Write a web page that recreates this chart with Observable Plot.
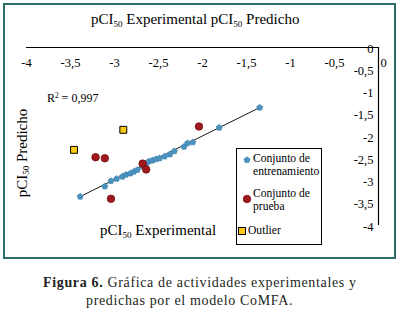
<!DOCTYPE html>
<html><head><meta charset="utf-8">
<script src="https://cdn.jsdelivr.net/npm/d3@7"></script>
<script src="https://cdn.jsdelivr.net/npm/@observablehq/plot@0.6"></script>
<style>
body{margin:0;background:#fff;}
#wrap{position:relative;width:398px;height:313px;font-family:"Liberation Serif","Times New Roman",serif;color:#000;overflow:hidden;}
#frame{position:absolute;left:3px;top:3px;width:393px;height:256px;box-sizing:border-box;border:2px solid #2c6f68;}
#chart{position:absolute;left:0;top:0;}
.t{position:absolute;white-space:nowrap;line-height:1;}
.t sub{font-size:60%;vertical-align:-0.3em;line-height:0;}
#title{left:91px;top:12px;font-size:15px;}
#ytitle{left:22px;top:153px;font-size:15px;transform:translate(-50%,-50%) rotate(-90deg);}
#xtitle{left:100px;top:223px;font-size:15px;}
#r2{left:47px;top:92px;font-size:12px;}
#r2 sup{font-size:60%;vertical-align:0.5em;line-height:0;}
#legend{position:absolute;left:236px;top:148px;width:86px;height:97px;box-sizing:border-box;border:1px solid #000;background:#fff;font-size:11.6px;}
#legend .l{position:absolute;white-space:nowrap;line-height:1;}
#legend svg{position:absolute;overflow:visible;}
.cap{position:absolute;white-space:nowrap;font-size:14px;letter-spacing:0.65px;color:#231f20;line-height:1;}
</style></head><body>
<div id="wrap">
  <div id="frame"></div>
  <div id="chart"></div>
  <div class="t" id="title">pCI<sub>50</sub> Experimental pCI<sub>50</sub> Predicho</div>
  <div class="t" id="ytitle">pCI<sub>50</sub> Predicho</div>
  <div class="t" id="xtitle">pCI<sub>50</sub> Experimental</div>
  <div class="t" id="r2">R<sup>2</sup> = 0,997</div>
  <div id="legend"></div>
  <div class="cap" id="cap1" style="left:43px;top:276px;"><b>Figura 6.</b> Gráfica de actividades experimentales y</div>
  <div class="cap" id="cap2" style="left:86px;top:294px;">predichas por el modelo CoMFA.</div>
</div>
<script>
// Tick values and labels
const xTickValues = [-4, -3.5, -3, -2.5, -2, -1.5, -1, -0.5, 0];
const xTickLabels = ["-4", "-3,5", "-3", "-2,5", "-2", "-1,5", "-1", "-0,5", "0"];
const yTickValues = [0, -0.5, -1, -1.5, -2, -2.5, -3, -3.5, -4];
const yTickLabels = ["0", "-0,5", "-1", "-1,5", "-2", "-2,5", "-3", "-3,5", "-4"];

// Training set (Conjunto de entrenamiento)
const trainX = [-3.39, -3.11, -3.04, -2.975, -2.91, -2.87, -2.82, -2.78, -2.74, -2.68, -2.64, -2.61, -2.57, -2.53, -2.49, -2.43, -2.37, -2.32, -2.21, -2.17, -2.11, -1.81, -1.35];
const trainY = [-3.35, -3.12, -3.00, -2.95, -2.90, -2.86, -2.83, -2.79, -2.75, -2.67, -2.61, -2.56, -2.54, -2.51, -2.49, -2.45, -2.40, -2.33, -2.23, -2.15, -2.13, -1.80, -1.35];

// Test set (Conjunto de prueba)
const testX = [-3.215, -3.11, -3.04, -2.68, -2.64, -2.04];
const testY = [-2.465, -2.49, -3.40, -2.61, -2.74, -1.775];

// Outliers
const outX = [-2.90, -3.46];
const outY = [-1.85, -2.30];

// Regression line endpoints
const fitX = [-3.39, -1.35];
const fitY = [-3.35, -1.35];

const train = trainX.map((x, i) => ({x, y: trainY[i]}));
const test = testX.map((x, i) => ({x, y: testY[i]}));
const outl = outX.map((x, i) => ({x, y: outY[i]}));
const fit = fitX.map((x, i) => ({x, y: fitY[i]}));
const xt = xTickValues.map((v, i) => ({v, label: xTickLabels[i]}));
const yt = yTickValues.map((v, i) => ({v, label: yTickLabels[i]}));

const pentagon = {
  draw(context, size) {
    const r = Math.sqrt(size / Math.PI) * 1.1;
    for (let k = 0; k < 5; k++) {
      const a = -Math.PI / 2 + k * 2 * Math.PI / 5;
      const px = r * Math.cos(a), py = r * Math.sin(a);
      if (k === 0) context.moveTo(px, py); else context.lineTo(px, py);
    }
    context.closePath();
  }
};

const BLUE = "#4a93c0", BLUE_S = "#3a80ad";
const RED = "#a0181d", RED_S = "#6d0b0e";
const YEL = "#fdc913";

const chart = Plot.plot({
  width: 398,
  height: 260,
  marginLeft: 26,
  marginRight: 20,
  marginTop: 47,
  marginBottom: 35,
  x: {domain: [-4, 0], axis: null},
  y: {domain: [-4, 0], axis: null},
  style: {background: "transparent", fontFamily: "Liberation Serif, Times New Roman, serif", color: "#000", overflow: "visible"},
  marks: [
    Plot.ruleY([0], {stroke: "#000", strokeWidth: 1.2}),
    Plot.ruleX([0], {stroke: "#000", strokeWidth: 1.2}),
    Plot.text(xt.slice(0, -1), {x: "v", y: () => 0, text: "label", dy: 15, fontSize: 12.5, fill: "#000"}),
    Plot.text(xt.slice(-1), {x: "v", y: () => 0, text: "label", dy: 15, dx: 5, fontSize: 12.5, fill: "#000"}),
    Plot.text(yt, {x: () => 0, y: "v", text: "label", dx: -5, dy: 1, textAnchor: "end", fontSize: 12.5, fill: "#000"}),
    Plot.line(fit, {x: "x", y: "y", stroke: "#000", strokeWidth: 0.9}),
    Plot.dot(train, {x: "x", y: "y", symbol: pentagon, r: 2.9, fill: BLUE, stroke: BLUE_S, strokeWidth: 0.6}),
    Plot.dot(test, {x: "x", y: "y", symbol: "circle", r: 3.8, fill: RED, stroke: RED_S, strokeWidth: 0.7}),
    Plot.dot(outl, {x: "x", y: "y", symbol: "square", r: 3.9, fill: YEL, stroke: "#000", strokeWidth: 1})
  ]
});
document.getElementById("chart").appendChild(chart);

// Legend
const legendItems = [
  {lines: ["Conjunto de", "entrenamiento"], marker: "pent", color: BLUE, stroke: BLUE_S},
  {lines: ["Conjunto de", "prueba"], marker: "circle", color: RED, stroke: RED_S},
  {lines: ["Outlier"], marker: "square", color: YEL, stroke: "#000"}
];
const leg = document.getElementById("legend");
const layout = [
  {mx: 9.5, my: 10.5, tx: 16, ty: [4, 17]},
  {mx: 9.5, my: 49.5, tx: 16, ty: [39, 52]},
  {mx: 4.5, my: 82, tx: 11, ty: [76]}
];
legendItems.forEach((it, i) => {
  const L = layout[i];
  const svg = d3.create("svg").attr("width", 10).attr("height", 10)
    .style("left", (L.mx - 5) + "px").style("top", (L.my - 5) + "px");
  if (it.marker === "pent") {
    const p = d3.path(); pentagon.draw(p, Math.PI * 2.9 * 2.9);
    svg.append("path").attr("transform", "translate(5,5)").attr("d", p.toString()).attr("fill", it.color).attr("stroke", it.stroke).attr("stroke-width", 0.6);
  } else if (it.marker === "circle") {
    svg.append("circle").attr("cx", 5).attr("cy", 5).attr("r", 3.8).attr("fill", it.color).attr("stroke", it.stroke).attr("stroke-width", 0.7);
  } else {
    svg.append("rect").attr("x", 1.5).attr("y", 1.5).attr("width", 7).attr("height", 7).attr("fill", it.color).attr("stroke", it.stroke);
  }
  leg.appendChild(svg.node());
  it.lines.forEach((t, j) => {
    const d = document.createElement("div");
    d.className = "l"; d.textContent = t;
    d.style.left = L.tx + "px"; d.style.top = L.ty[j] + "px";
    leg.appendChild(d);
  });
});
</script>
</body></html>
